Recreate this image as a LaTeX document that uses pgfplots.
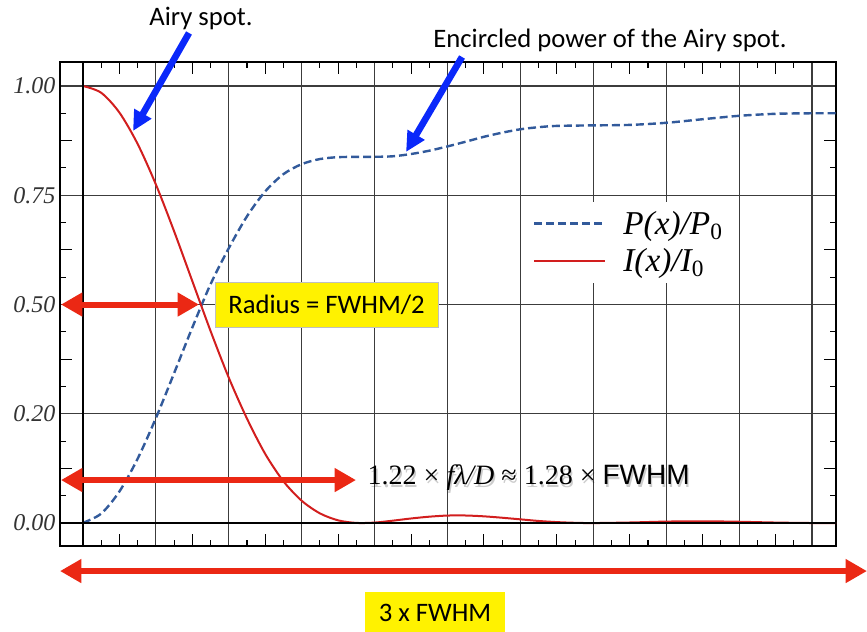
\documentclass[border=0pt]{standalone}
\usepackage{fontspec}
\setmainfont{Liberation Serif}
\newfontfamily\calibri{Carlito}
\newfontfamily\helv{Liberation Sans}
\usepackage{pgfplots}
\pgfplotsset{compat=1.18}
\usetikzlibrary{arrows.meta}

\definecolor{curvered}{RGB}{210,30,30}
\definecolor{curveblue}{RGB}{50,90,155}
\definecolor{arrred}{RGB}{235,40,20}
\definecolor{arrblue}{RGB}{10,40,250}
\definecolor{gridgray}{RGB}{60,60,60}

% encircled power P(x)/P0
\pgfplotstableread{
x     p
0     0.0006
0.25  0.0217
0.5   0.0724
0.75  0.1474
1.0   0.2402
1.25  0.3430
1.5   0.4475
1.75  0.5466
2.0   0.6290
2.25  0.7020
2.5   0.7590
2.75  0.7984
3.0   0.8212
3.25  0.8329
3.5   0.8372
3.75  0.8378
4.0   0.8380
4.25  0.8392
4.5   0.8444
4.75  0.8520
5.0   0.8618
5.25  0.8726
5.5   0.8838
5.75  0.8932
6.0   0.9010
6.25  0.9058
6.5   0.9087
7.0   0.9099
7.5   0.9110
8.0   0.9158
8.5   0.9240
9.0   0.9318
9.5   0.9364
10.0  0.9376
10.5  0.9378
}\powertable

% Airy intensity I(x)/I0
\pgfplotstableread{
x     i
0     1.0
0.25  0.9845
0.5   0.9391
0.75  0.8673
1.0   0.7746
1.25  0.6675
1.5   0.5534
1.75  0.4394
2.0   0.3326
2.25  0.2388
2.5   0.1581
2.75  0.0955
3.0   0.0511
3.25  0.0222
3.5   0.0062
3.75  0.0003
4.0   0.0011
4.25  0.0055
4.5   0.0105
4.75  0.0146
5.0   0.0172
5.25  0.0173
5.5   0.0154
5.75  0.0122
6.0   0.0085
6.25  0.0048
6.5   0.0022
6.75  0.0006
7.0   0.0000
7.5   0.0013
8.0   0.0034
8.5   0.0041
9.0   0.0030
9.5   0.0012
10.0  0.0001
10.5  0.0002
}\airytable

\newcommand{\formula}{1.22 × \textit{fλ/D} ≈ 1.28 × {\helv FWHM}}

\begin{document}
\begin{tikzpicture}
\begin{axis}[
    scale only axis,
    width=582pt, height=363pt,
    xmin=-0.3155, xmax=10.33,
    ymin=-0.0526, ymax=1.0549,
    clip mode=individual,
    xtick={0,...,10}, xticklabels={},
    ytick={0,0.25,0.5,0.75,1},
    yticklabels={\textit{0.00},\textit{0.20},\textit{0.50},\textit{0.75},\textit{1.00}},
    minor xtick={0.25,0.75,...,9.75},
    minor ytick={0.0625,0.1875,...,0.9375},
    extra x ticks={0.5,1.5,...,9.5}, extra x tick labels={},
    extra y ticks={0.125,0.375,0.625,0.875}, extra y tick labels={},
    extra tick style={grid=none, major tick length=9pt},
    major tick length=0pt, minor tick length=4.5pt,
    tick style={black, line width=0.8pt},
    grid=major,
    major grid style={gridgray, line width=0.9pt},
    axis line style={black, line width=1.3pt},
    yticklabel style={font=\fontsize{18}{18}\selectfont, text=black!80},
    legend style={at={(axis cs:6.022,0.736)}, anchor=north west,
        draw=none, fill=white, inner xsep=8pt, inner ysep=5pt,
        row sep=5pt, font=\fontsize{25}{25}\selectfont\itshape},
    legend cell align=left,
    legend image code/.code={\draw[#1] (0pt,0pt) -- (53pt,0pt); \path (64pt,0pt);},
]
\addplot[curveblue, line width=1.8pt, dash pattern=on 6pt off 3pt, smooth] table[x=x, y=p] {\powertable};
\addplot[curvered, line width=1.5pt, smooth] table[x=x, y=i] {\airytable};
\legend{P(x)/P\textsubscript{\upshape 0}, I(x)/I\textsubscript{\upshape 0}}

% heavier zero lines
\draw[black, line width=1.5pt] (axis cs:0,-0.0526) -- (axis cs:0,1.0549);
\draw[black, line width=1.5pt] (axis cs:-0.3155,0) -- (axis cs:10.33,0);

% blue call-outs
\node[font=\calibri\fontsize{20}{20}\selectfont] at (axis cs:1.619,1.1556) {Airy spot.};
\draw[arrblue, line width=5pt, -{Triangle[length=15pt,width=14pt]}]
    (axis cs:1.454,1.1213) -- (axis cs:0.686,0.897);
\node[font=\calibri\fontsize{20}{20}\selectfont] at (axis cs:7.229,1.1053) {Encircled power of the Airy spot.};
\draw[arrblue, line width=5pt, -{Triangle[length=15pt,width=14pt]}]
    (axis cs:5.199,1.0664) -- (axis cs:4.431,0.849);

% red double arrows
\draw[arrred, line width=4.5pt, {Triangle[length=16pt,width=17pt]}-{Triangle[length=16pt,width=17pt]}]
    (axis cs:-0.302,0.5) -- (axis cs:1.591,0.5);
\node[fill=yellow, draw=black!25, line width=0.4pt, minimum width=167pt, minimum height=34pt,
      font=\calibri\fontsize{20}{20}\selectfont] at (axis cs:3.340,0.499) {Radius = FWHM/2};
\draw[arrred, line width=4.5pt, {Triangle[length=16pt,width=17pt]}-{Triangle[length=16pt,width=17pt]}]
    (axis cs:-0.302,0.0984) -- (axis cs:3.745,0.0984);
\node[anchor=west, text=black, opacity=0.2, font=\fontsize{21}{21}\selectfont, xshift=1pt, yshift=-2pt]
    at (axis cs:3.841,0.103) {\formula};
\node[anchor=west, font=\fontsize{21}{21}\selectfont] at (axis cs:3.841,0.103) {\formula};
\draw[arrred, line width=4.5pt, {Triangle[length=16pt,width=17pt]}-{Triangle[length=16pt,width=17pt]}]
    (axis cs:-0.3155,-0.1098) -- (axis cs:10.754,-0.1098);
\node[fill=yellow, anchor=north, minimum width=105pt, minimum height=31.5pt,
      font=\calibri\fontsize{20}{20}\selectfont] at (axis cs:4.829,-0.158) {3 x FWHM};

\coordinate (bbA) at (axis cs:-1.1385,1.1968);
\coordinate (bbB) at (axis cs:10.7545,-0.2471);
\end{axis}
\pgfresetboundingbox
\useasboundingbox (bbA) rectangle (bbB);
\end{tikzpicture}
\end{document}
